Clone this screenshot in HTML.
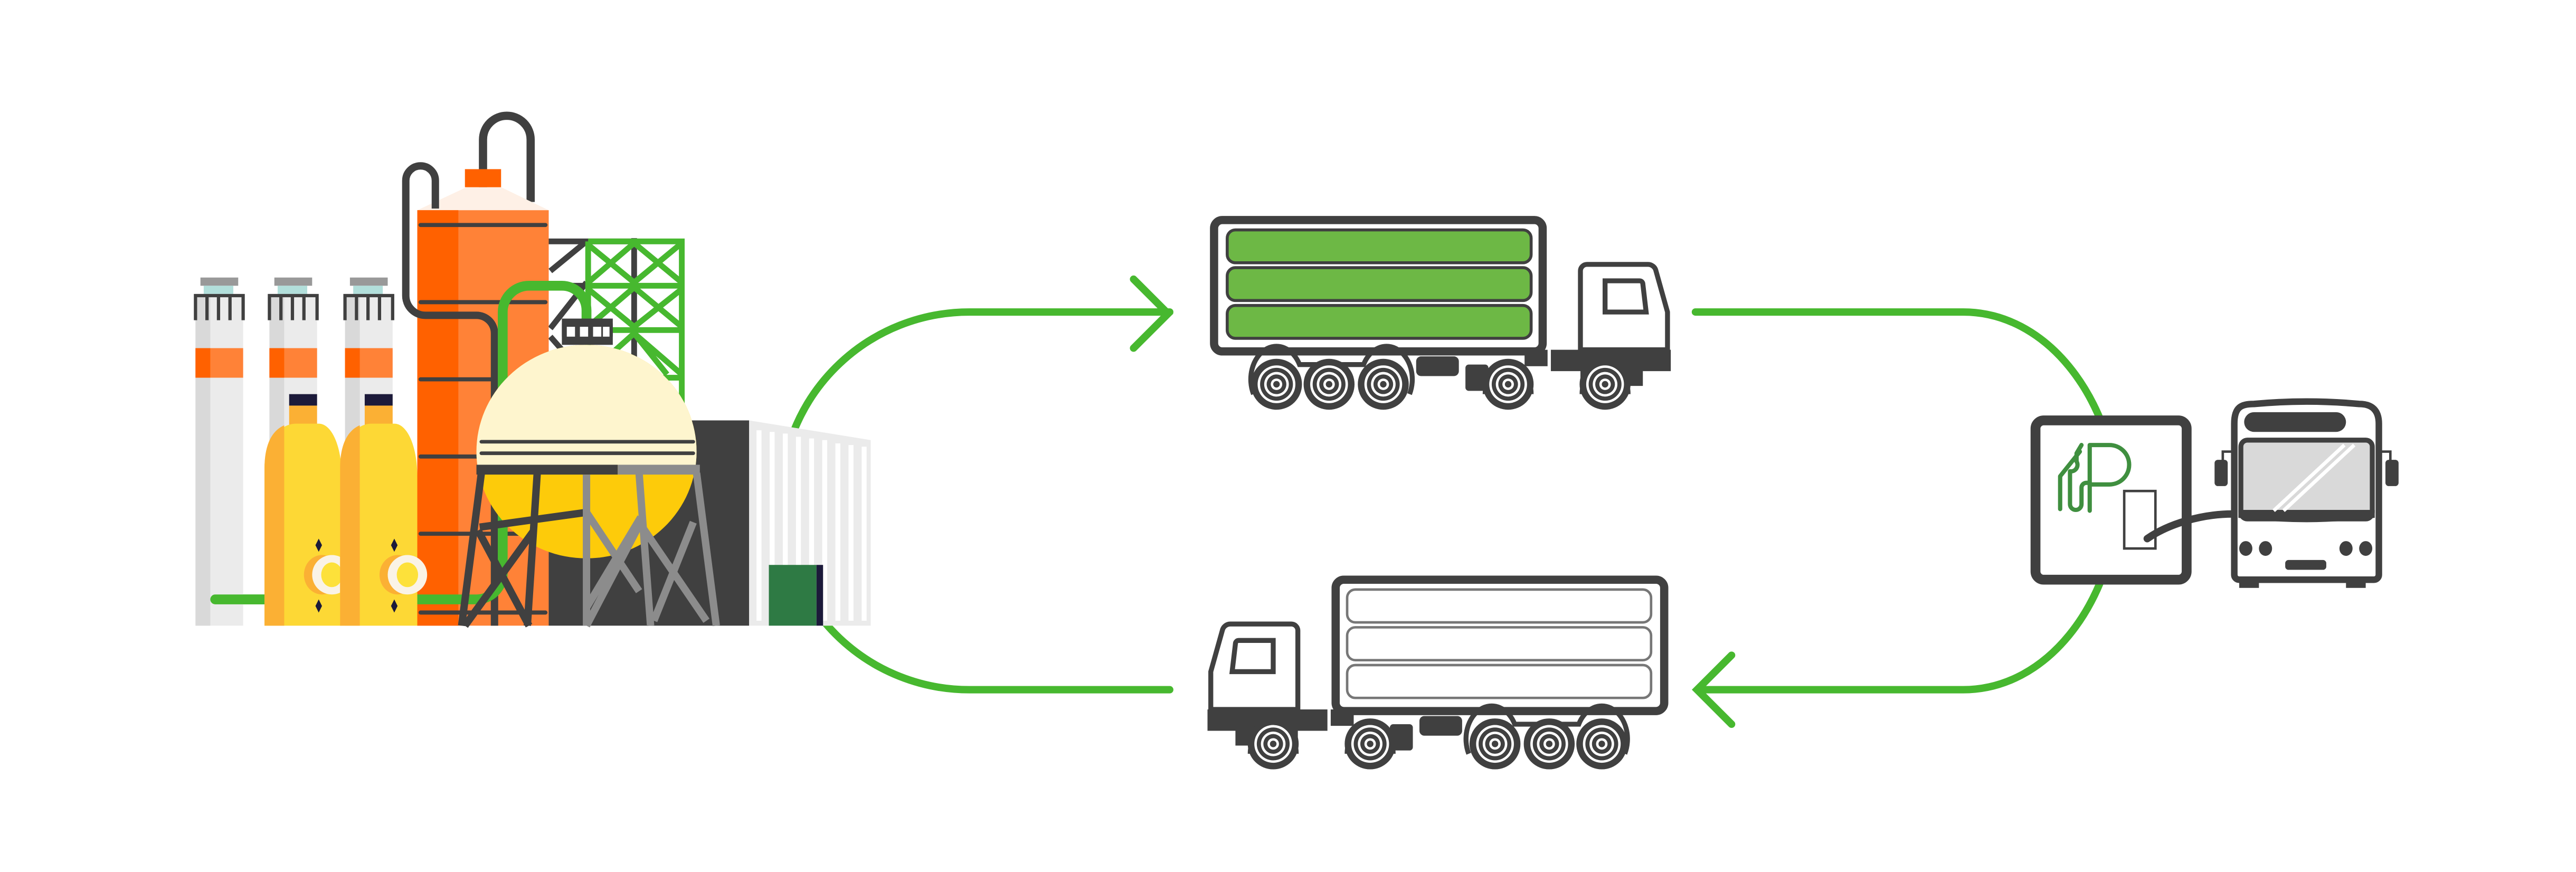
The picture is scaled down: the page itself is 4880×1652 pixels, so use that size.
<!DOCTYPE html>
<html><head><meta charset="utf-8"><style>html,body{margin:0;padding:0;background:#fff}svg{display:block}</style></head>
<body>
<svg width="4880" height="1652" viewBox="0 0 1568 531" preserveAspectRatio="none" xmlns="http://www.w3.org/2000/svg">
<defs>
<clipPath id="top"><rect x="280" y="200" width="160" height="83"/></clipPath>
<g id="wheel">
<circle r="15.5" fill="#404040"/><circle r="11.5" fill="#fff"/><circle r="10" fill="#404040"/><circle r="7.5" fill="#fff"/><circle r="6" fill="#404040"/><circle r="3.5" fill="#fff"/><circle r="2" fill="#404040"/>
</g>
<g id="truckbase">
<rect x="739" y="134" width="200" height="80" rx="5" fill="#fff" stroke="#404040" stroke-width="5"/>
<path d="M962 213 V165 a4 4 0 0 1 4 -4 H1003 a5 5 0 0 1 5 4 L1015 190 V213 Z" fill="#fff" stroke="#404040" stroke-width="3"/>
<path d="M977 171 H998 a2 2 0 0 1 2 2 L1002 190 H977 Z" fill="#fff" stroke="#404040" stroke-width="3"/>
<path d="M944 213 H1017 V226 H1000 V235 H962 V226 H944 Z" fill="#404040"/>
<rect x="928" y="213" width="14" height="10" fill="#404040"/>
<rect x="862" y="217" width="26" height="12" rx="3" fill="#404040"/>
<rect x="892" y="222" width="14" height="16" rx="2" fill="#404040"/>
<path d="M763 240 a14 18 0 0 1 28 -18 H830 a14 18 0 0 1 28 18" fill="none" stroke="#404040" stroke-width="3"/>
<path d="M904 240 a14 18 0 0 1 28 0" fill="none" stroke="#404040" stroke-width="3"/>
<path d="M963 240 a14 18 0 0 1 28 0" fill="none" stroke="#404040" stroke-width="3"/>
<use href="#wheel" x="777" y="234"/><use href="#wheel" x="809" y="234"/><use href="#wheel" x="842" y="234"/><use href="#wheel" x="918" y="234"/><use href="#wheel" x="977" y="234"/>
</g>
</defs>

<!-- green loops -->
<g fill="none" stroke="#47B82F" stroke-width="4.5" stroke-linecap="round">
<path d="M712 190 H590 A115 115 0 0 0 590 420 H712"/>
<path d="M690 170 L711 191 L690 212"/>
<path d="M1032 190 H1195 C1245 190 1285 240 1290 305 C1285 370 1245 420 1195 420 H1035"/>
<path d="M1054 399 L1033 420 L1054 441"/>
</g>

<!-- top truck -->
<use href="#truckbase"/>
<g fill="#6DB845" stroke="#404040" stroke-width="1.8">
<rect x="747" y="140" width="185" height="20" rx="5"/>
<rect x="747" y="163" width="185" height="20" rx="5"/>
<rect x="747" y="186" width="185" height="20" rx="5"/>
</g>
<!-- bottom truck (mirrored) -->
<g transform="translate(1752 219) scale(-1 1)">
<use href="#truckbase"/>
<g fill="#fff" stroke="#777" stroke-width="1.5">
<rect x="747" y="140" width="185" height="20" rx="5"/>
<rect x="747" y="163" width="185" height="20" rx="5"/>
<rect x="747" y="186" width="185" height="20" rx="5"/>
</g>
</g>

<!-- station -->
<rect x="1239" y="256" width="92" height="97" rx="5" fill="#fff" stroke="#404040" stroke-width="6"/>
<g fill="none" stroke="#3F8F3F" stroke-width="2.6" stroke-linecap="round" stroke-linejoin="round">
<path d="M1272 311 V271 H1284 a12 12 0 0 1 0 24 H1272"/>
<path d="M1272 294 H1270 a3 3 0 0 0 -3 3 V307 a3.5 3.5 0 0 1 -7 0 V287 a4 4 0 0 0 4 -6 V276 L1267 271 M1266 275 L1254 290 V310"/>
</g>
<rect x="1293" y="299" width="19" height="35" fill="#fff" stroke="#404040" stroke-width="1.5"/>
<path d="M1307 328 C1320 319 1340 313 1359 313" fill="none" stroke="#404040" stroke-width="4.5" stroke-linecap="round"/>

<!-- bus -->
<rect x="1363" y="350" width="12" height="8" fill="#404040"/><rect x="1428" y="350" width="12" height="8" fill="#404040"/>
<path d="M1360 350 V258 C1360 248 1364 246 1372 246 Q1404 243 1436 246 C1444 246 1448 250 1448 258 V350 a3 3 0 0 1 -3 3 H1363 a3 3 0 0 1 -3 -3Z" fill="#fff" stroke="#404040" stroke-width="4"/>
<rect x="1366" y="251" width="62" height="12" rx="6" fill="#404040"/>
<rect x="1364" y="268" width="80" height="48" rx="4" fill="#D9D9D9" stroke="#404040" stroke-width="3"/>
<path d="M1364 312 H1444 V314 Q1404 319 1364 314Z" fill="#404040" stroke="#404040" stroke-width="3"/>
<path d="M1384 311 L1427 271 M1390 311 L1433 271" stroke="#fff" stroke-width="2.2"/>
<rect x="1348" y="280" width="8" height="16" rx="2" fill="#404040"/><rect x="1452" y="280" width="8" height="16" rx="2" fill="#404040"/>
<path d="M1353 281 V275 H1360 M1455 281 V275 H1448" fill="none" stroke="#404040" stroke-width="1.5"/>
<g fill="#404040"><ellipse cx="1367" cy="334" rx="4" ry="4.5"/><ellipse cx="1379" cy="334" rx="4" ry="4.5"/><ellipse cx="1428" cy="334" rx="4" ry="4.5"/><ellipse cx="1440" cy="334" rx="4" ry="4.5"/>
<rect x="1391" y="341" width="25" height="6" rx="2"/></g>

<!-- FACTORY -->
<!-- scaffold -->
<g fill="none" stroke="#404040" stroke-width="3.5">
<path d="M334 147 H386 M386 145 V250 M335 165 L357 147 M335 200 L357 172 M357 174 H336 M357 230 L335 205"/>
</g>
<g fill="none" stroke="#47B82F" stroke-width="3.5">
<path d="M358 147 H415 V262 M358 147 V230 M358 174 H415 M358 201 H415 M358 230 H415"/>
<path d="M358 172 L386 148 L415 172 M358 149 L386 172 L415 148 M358 199 L386 175 L415 199 M358 176 L386 199 L415 176 M358 228 L386 203 L415 228 M386 203 L406 228"/>
</g>
<!-- pipes behind -->
<g fill="none" stroke="#404040" stroke-width="5">
<path d="M294 122 V85 a14.5 14.5 0 0 1 29 0 V123"/>
</g>
<!-- orange column -->
<path d="M254 128 L284 114 H305 L334 128 Z" fill="#FEF0E6"/>
<rect x="283" y="103" width="22" height="11" fill="#FF6100"/>
<rect x="254" y="128" width="80" height="253" fill="#FF8237"/>
<rect x="254" y="128" width="25" height="253" fill="#FF6100"/>
<g stroke="#404040" stroke-width="2.5" stroke-linecap="round"><path d="M256 137 H332 M256 184 H332 M256 231 H332 M256 278 H332 M256 325 H332 M256 373 H332"/></g>
<!-- left pipe -->
<path d="M265 127 V110 a9 9 0 0 0 -18 0 V180 a12 12 0 0 0 12 12 H290 a11 11 0 0 1 11 11 V381" fill="none" stroke="#404040" stroke-width="4.5"/>
<!-- green pipe -->
<path d="M131 365 H290 a16 16 0 0 0 16 -16 V190 a16 16 0 0 1 16 -16 H342 a15 15 0 0 1 15 15 V200" fill="none" stroke="#47B82F" stroke-width="6" stroke-linecap="round"/>
<!-- dark building -->
<rect x="334" y="256" width="122" height="125" fill="#404040"/>
<!-- corrugated -->
<path d="M456 256 L530 268 V381 H456 Z" fill="#EBEBEB"/>
<g stroke="#fff" stroke-width="3"><path d="M462 262 V378 M470 263 V378 M478 264 V378 M486 266 V378 M494 267 V378 M502 268 V378 M510 270 V378 M518 271 V378 M526 272 V378"/></g>
<rect x="468" y="344" width="29" height="37" fill="#2E7A44"/><rect x="497" y="344" width="4" height="37" fill="#1C1A3A"/>
<!-- sphere -->
<rect x="342" y="194" width="31" height="16" fill="#404040"/>
<rect x="342" y="197" width="31" height="8" fill="#404040"/>
<g fill="#fff"><rect x="345" y="199" width="5" height="6"/><rect x="353" y="199" width="5" height="6"/><rect x="361" y="199" width="5" height="6"/><rect x="367" y="199" width="4" height="6"/></g>
<ellipse cx="357" cy="275" rx="67" ry="65" fill="#FDCB0A"/>
<ellipse cx="357" cy="275" rx="67" ry="65" fill="#FEF5CE" clip-path="url(#top)"/>
<path d="M293 269 H422 M293 276 H422" stroke="#404040" stroke-width="2.2" stroke-linecap="round"/>
<rect x="290" y="283" width="86" height="6" fill="#404040"/><rect x="376" y="283" width="50" height="6" fill="#8C8C8C"/>
<g fill="none" stroke-width="4.5">
<path d="M293 288 L281 381 M326 288 L320 381 M290 322 L311 380 M324 322 L298 380 M290 330 L328 388" stroke="#404040" stroke-opacity="0"/>
<path d="M293 288 L281 381 M327 288 L321 381 M291 323 L322 381 M325 323 L283 381 M292 321 L357 312" stroke="#404040"/>
<path d="M357 289 V381 M389 288 L396 381 M424 288 L436 381 M389 318 L430 378 M422 318 L398 378 M357 312 L389 360 M390 315 L357 370 M389 320 L357 381" stroke="#8C8C8C"/>
</g>
<!-- chimneys -->
<g>
<rect x="119" y="179" width="29" height="202" fill="#EBEBEB"/><rect x="119" y="179" width="9" height="202" fill="#D9D9D9"/>
<rect x="119" y="212" width="29" height="18" fill="#FF8237"/><rect x="119" y="212" width="9" height="18" fill="#FF6100"/>
<rect x="122" y="169" width="23" height="5" fill="#999"/><rect x="124" y="174" width="18" height="5" fill="#B2DFDB"/>
<path d="M119 195 V180 H148 V195 M126 180 V195 M133 180 V195 M140 180 V195" fill="none" stroke="#404040" stroke-width="2"/>
</g>
<g transform="translate(45 0)">
<rect x="119" y="179" width="29" height="202" fill="#EBEBEB"/><rect x="119" y="179" width="9" height="202" fill="#D9D9D9"/>
<rect x="119" y="212" width="29" height="18" fill="#FF8237"/><rect x="119" y="212" width="9" height="18" fill="#FF6100"/>
<rect x="122" y="169" width="23" height="5" fill="#999"/><rect x="124" y="174" width="18" height="5" fill="#B2DFDB"/>
<path d="M119 195 V180 H148 V195 M126 180 V195 M133 180 V195 M140 180 V195" fill="none" stroke="#404040" stroke-width="2"/>
</g>
<g transform="translate(91 0)">
<rect x="119" y="179" width="29" height="202" fill="#EBEBEB"/><rect x="119" y="179" width="9" height="202" fill="#D9D9D9"/>
<rect x="119" y="212" width="29" height="18" fill="#FF8237"/><rect x="119" y="212" width="9" height="18" fill="#FF6100"/>
<rect x="122" y="169" width="23" height="5" fill="#999"/><rect x="124" y="174" width="18" height="5" fill="#B2DFDB"/>
<path d="M119 195 V180 H148 V195 M126 180 V195 M133 180 V195 M140 180 V195" fill="none" stroke="#404040" stroke-width="2"/>
</g>
<!-- green pipe front segment -->
<path d="M131 365 H161" stroke="#47B82F" stroke-width="6" stroke-linecap="round"/>
<!-- yellow tanks -->
<g id="tank">
<rect x="176" y="240" width="17" height="7" fill="#1C1A3A"/>
<rect x="176" y="247" width="17" height="13" fill="#FBB034"/>
<path d="M161 381 V285 C161 270 170 258 180 258 H194 C202 258 208 272 208 290 V381 Z" fill="#FDD835"/>
<path d="M161 381 V285 C161 270 166 262 173 259 V381 Z" fill="#FBB034"/>
<ellipse cx="196" cy="350" rx="11" ry="12" fill="#FBB034"/>
<ellipse cx="202" cy="350" rx="12" ry="12" fill="#FAF3E6"/>
<ellipse cx="202" cy="350" rx="6.5" ry="7.5" fill="#FDE13A"/>
<path d="M194 328 L196 332 L194 336 L192 332Z M194 365 L196 369 L194 373 L192 369Z" fill="#1C1A3A"/>
</g>
<g transform="translate(46 0)">
<rect x="176" y="240" width="17" height="7" fill="#1C1A3A"/>
<rect x="176" y="247" width="17" height="13" fill="#FBB034"/>
<path d="M161 381 V285 C161 270 170 258 180 258 H194 C202 258 208 272 208 290 V381 Z" fill="#FDD835"/>
<path d="M161 381 V285 C161 270 166 262 173 259 V381 Z" fill="#FBB034"/>
<ellipse cx="196" cy="350" rx="11" ry="12" fill="#FBB034"/>
<ellipse cx="202" cy="350" rx="12" ry="12" fill="#FAF3E6"/>
<ellipse cx="202" cy="350" rx="6.5" ry="7.5" fill="#FDE13A"/>
<path d="M194 328 L196 332 L194 336 L192 332Z M194 365 L196 369 L194 373 L192 369Z" fill="#1C1A3A"/>
</g>
</svg>
</body></html>
